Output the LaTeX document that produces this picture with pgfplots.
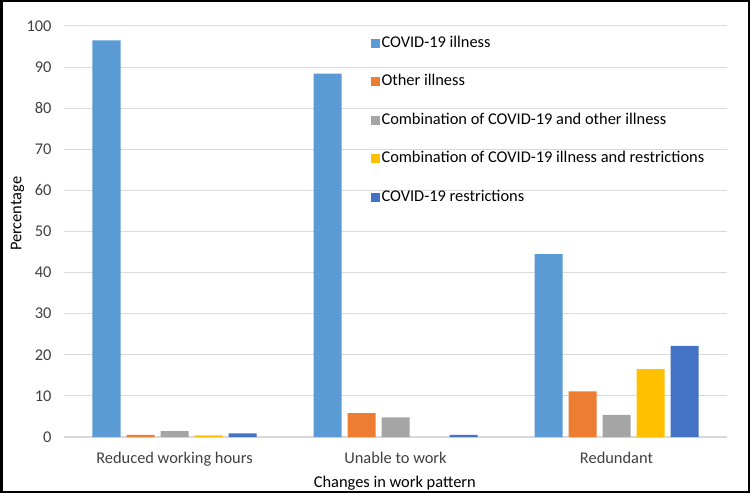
\documentclass[border=0pt]{standalone}
\usepackage{pgfplots}
\pgfplotsset{compat=1.18}
\usepackage{fontspec}
\setmainfont{Carlito}
\definecolor{cA}{HTML}{5B9BD5}
\definecolor{cB}{HTML}{ED7D31}
\definecolor{cC}{HTML}{A5A5A5}
\definecolor{cD}{HTML}{FFC000}
\definecolor{cE}{HTML}{4472C4}
\definecolor{txt}{HTML}{404040}
\definecolor{grd}{HTML}{D9D9D9}
\begin{document}
\begin{tikzpicture}
\useasboundingbox (0,0) rectangle (750pt,493pt);
\begin{axis}[
  at={(64pt,56pt)}, anchor=south west,
  scale only axis, width=663pt, height=411pt,
  ybar=6pt, bar width=28pt,
  xmin=-0.5, xmax=2.5, ymin=0, ymax=100,
  xtick={0,1,2},
  xticklabels={Reduced working hours, Unable to work, Redundant},
  ytick={0,10,...,100},
  ymajorgrids, grid style={grd, line width=1pt},
  axis line style={draw=none},
  extra y ticks={0}, extra y tick labels={},
  extra y tick style={grid style={grd, line width=1.2pt}},
  major tick length=0pt, tick style={draw=none},
  /pgf/number format/assume math mode=true,
  tick label style={font=\fontsize{16.4}{19}\selectfont, text=txt},
  yticklabel style={xshift=-9pt},
  xticklabel style={yshift=-12pt},
  xlabel={Changes in work pattern},
  ylabel={Percentage},
  every axis x label/.style={at={(axis description cs:0.499,-0.113)}, anchor=center, font=\fontsize{16.4}{19}\selectfont, text=black},
  every axis y label/.style={at={(axis description cs:-0.070,0.543)}, rotate=90, anchor=center, font=\fontsize{16.4}{19}\selectfont, text=black},
  legend style={at={(rel axis cs:0.462,0.981)}, anchor=north west, draw=none, fill=none,
    font=\fontsize{16.4}{19}\selectfont, text=black, inner sep=0pt, row sep=20.6pt, column sep=0pt,
    nodes={inner sep=2pt, text height=11pt, text depth=3pt}},
  legend cell align=left,
  legend image code/.code={\fill[#1] (0pt,-4.5pt) rectangle (9pt,4.5pt);},
  legend style={every legend entry/.append style={}},
  legend style={nodes={}},
  legend style={/tikz/every even column/.append style={column sep=3pt}},
]
\addplot[fill=cA, draw=none] coordinates {(0,96.5) (1,88.4) (2,44.5)};
\addplot[fill=cB, draw=none] coordinates {(0,0.5) (1,5.8) (2,11.1)};
\addplot[fill=cC, draw=none] coordinates {(0,1.4) (1,4.8) (2,5.4)};
\addplot[fill=cD, draw=none] coordinates {(0,0.4) (1,0) (2,16.5)};
\addplot[fill=cE, draw=none] coordinates {(0,0.9) (1,0.5) (2,22.2)};
\legend{COVID-19 illness, Other illness, Combination of COVID-19 and other illness, Combination of COVID-19 illness and restrictions, COVID-19 restrictions}
\end{axis}
\draw[black, line width=2.5pt] (1.25pt,1.25pt) rectangle (748.75pt,491.75pt);
\end{tikzpicture}
\end{document}
